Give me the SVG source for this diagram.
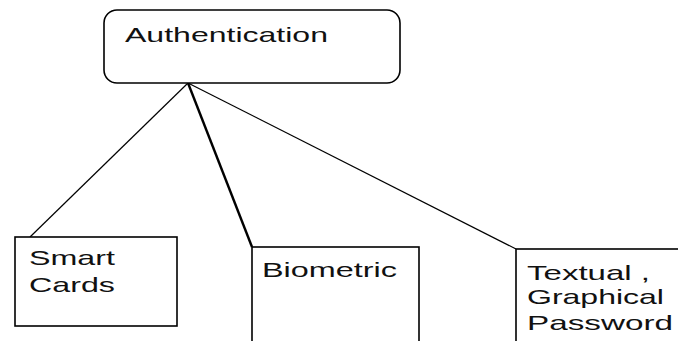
<svg xmlns="http://www.w3.org/2000/svg" width="678" height="341" viewBox="0 0 678 341">
<style>
.box{fill:#fff;stroke:#000;stroke-width:1.6}
.lbl{font-family:"Liberation Sans",Arial,sans-serif;font-size:21px;fill:#111}
.con{stroke:#000;stroke-width:1.2;fill:none}
.thick{stroke-width:2.4}
</style>
<rect width="678" height="341" fill="#fff"/>
<g id="connectors">
<line class="con" x1="188" y1="83" x2="30" y2="237"/>
<line class="con thick" x1="188" y1="83" x2="252" y2="247"/>
<line class="con" x1="188" y1="83" x2="516" y2="249"/>
</g>
<g id="authentication">
<rect class="box" x="104" y="10" width="296" height="73" rx="13" ry="13"/>
<text class="lbl" x="125" y="42" textLength="203" lengthAdjust="spacingAndGlyphs">Authentication</text>
</g>
<g id="smart-cards">
<rect class="box" x="15" y="237" width="162" height="89"/>
<text class="lbl" x="29" y="265" textLength="86" lengthAdjust="spacingAndGlyphs">Smart</text>
<text class="lbl" x="29" y="292" textLength="86" lengthAdjust="spacingAndGlyphs">Cards</text>
</g>
<g id="biometric">
<rect class="box" x="252" y="247" width="167" height="110"/>
<text class="lbl" x="262" y="277" textLength="135" lengthAdjust="spacingAndGlyphs">Biometric</text>
</g>
<g id="textual-graphical-password">
<rect class="box" x="516" y="249" width="180" height="110"/>
<text class="lbl" x="527" y="280" textLength="123" lengthAdjust="spacingAndGlyphs">Textual ,</text>
<text class="lbl" x="527" y="304" textLength="137" lengthAdjust="spacingAndGlyphs">Graphical</text>
<text class="lbl" x="527" y="330" textLength="146" lengthAdjust="spacingAndGlyphs">Password</text>
</g>
</svg>
